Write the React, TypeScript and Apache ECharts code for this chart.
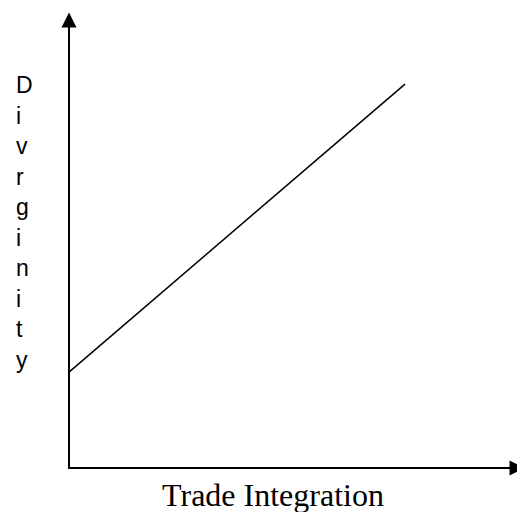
import React, { useEffect, useRef } from "react";
import * as echarts from "echarts";

const yLabelLetters = ["D", "i", "v", "r", "g", "i", "n", "i", "t", "y"];
const xLabel = "Trade Integration";
const lineX = [0, 75];
const lineY = [21.4, 85.7];

export default function App() {
  const ref = useRef<HTMLDivElement>(null);
  useEffect(() => {
    if (!ref.current) return;
    const chart = echarts.init(ref.current, undefined, { renderer: "svg" });
    chart.setOption({
      animation: false,
      backgroundColor: "#ffffff",
      grid: { left: 69, right: 0, top: 20, bottom: 44 },
      xAxis: {
        type: "value",
        min: 0,
        max: 100,
        axisLine: {
          show: true,
          onZero: false,
          symbol: ["none", "triangle"],
          symbolSize: [15, 15],
          lineStyle: { color: "#000", width: 2 },
        },
        axisTick: { show: false },
        axisLabel: { show: false },
        splitLine: { show: false },
      },
      yAxis: {
        type: "value",
        min: 0,
        max: 100,
        axisLine: {
          show: true,
          onZero: false,
          symbol: ["none", "triangle"],
          symbolSize: [15, 15],
          lineStyle: { color: "#000", width: 2 },
        },
        axisTick: { show: false },
        axisLabel: { show: false },
        splitLine: { show: false },
      },
      series: [
        {
          type: "line",
          data: lineX.map((x, i) => [x, lineY[i]]),
          showSymbol: false,
          lineStyle: { color: "#000", width: 1.5 },
          silent: true,
        },
      ],
      graphic: [
        {
          type: "text",
          left: 16,
          top: 70,
          style: {
            text: yLabelLetters.join("\n"),
            font: '23px "Liberation Sans", Arial, sans-serif',
            lineHeight: 30.5,
            fill: "#000",
            align: "left",
          },
        },
        {
          type: "text",
          x: 273,
          y: 495,
          style: {
            text: xLabel,
            font: '32px "Liberation Serif", "Times New Roman", serif',
            fill: "#000",
            align: "center",
            verticalAlign: "middle",
          },
        },
      ],
    });
    return () => chart.dispose();
  }, []);
  return (
    <div
      ref={ref}
      style={{ position: "absolute", left: 0, top: 0, width: 517, height: 512 }}
    />
  );
}
